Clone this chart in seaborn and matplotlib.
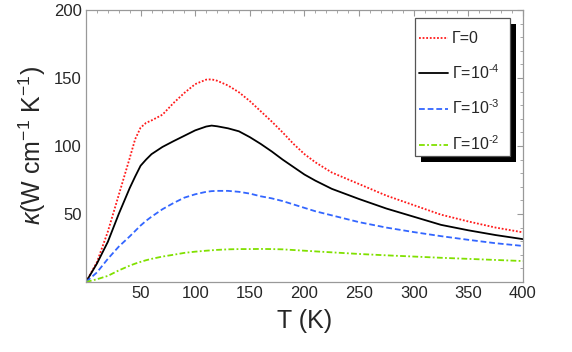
import matplotlib

matplotlib.use("Agg")
import matplotlib.pyplot as plt
import numpy as np
import pandas as pd
import seaborn as sns
from matplotlib.patches import Rectangle
from matplotlib.ticker import MultipleLocator

# values
T_VALS = [0, 10, 20, 30, 40, 45, 50, 55, 60, 70, 80, 90, 100, 110, 115, 120,
          130, 140, 150, 160, 170, 180, 190, 200, 210, 225, 250, 275, 300,
          325, 350, 375, 400]
KAPPA_G0 = [0, 14.5, 37, 64, 91, 105, 113.5, 117, 118.8, 123, 131.5, 139,
            145.5, 148.8, 149, 148, 144.5, 139.5, 133, 125.5, 118, 110, 101.5,
            94, 88, 80.5, 72, 63.5, 56.5, 49.5, 44.5, 40, 36.5]
KAPPA_G4 = [0, 13.5, 29.5, 50, 69, 77.5, 85.5, 90, 94, 99.3, 103.5, 107.5,
            111.5, 114.3, 115, 114.5, 113, 110.8, 106.5, 101.5, 96, 90, 84.5,
            79, 74.5, 68.5, 61, 54, 48, 42, 38, 34.5, 31.5]
KAPPA_G3 = [0, 7, 17, 26, 33.5, 37.5, 41.5, 45, 48, 53.5, 58, 62, 64.5, 66.3,
            66.8, 67, 67, 66.3, 65, 63, 61.5, 59.5, 57, 54.5, 52, 49, 44, 40,
            36.7, 33.7, 31, 28.5, 26.5]
KAPPA_G2 = [0, 2, 4.5, 8.5, 12, 13.5, 14.8, 16, 17, 18.7, 20, 21.4, 22.3, 23,
            23.3, 23.6, 24, 24.2, 24.2, 24.3, 24.2, 24, 23.5, 23, 22.5, 21.8,
            20.6, 19.6, 18.7, 17.8, 17, 16.2, 15.4]

LABELS = [r"Γ=0", r"Γ=10$^{\text{-}4}$", r"Γ=10$^{\text{-}3}$",
          r"Γ=10$^{\text{-}2}$"]
COLORS = ["#ff1a1a", "black", "#3366ff", "#80e000"]
STYLES = [(0, (1, 1)), "-", (0, (3.2, 1.6)), (0, (3.2, 1.3, 1, 1.3))]

sns.set_theme(style="white")
plt.rcParams["font.family"] = ["Liberation Sans", "DejaVu Sans"]
plt.rcParams["mathtext.fontset"] = "custom"
plt.rcParams["mathtext.rm"] = "Liberation Sans"
plt.rcParams["mathtext.it"] = "Liberation Sans:italic"

fig = plt.figure(figsize=(5.72, 3.52), dpi=100)
ax = fig.add_axes([0.1503, 0.1989, 0.7640, 0.7727])

series = [KAPPA_G0, KAPPA_G4, KAPPA_G3, KAPPA_G2]
for vals, lab, col, ls in zip(series, LABELS, COLORS, STYLES):
    df = pd.DataFrame({"T": T_VALS, "kappa": vals})
    sns.lineplot(data=df, x="T", y="kappa", ax=ax, color=col, linestyle=ls,
                 linewidth=1.3, label=lab)

ax.set_xlim(0, 400)
ax.set_ylim(0, 200)
ax.set_xticks(np.arange(50, 401, 50))
ax.set_yticks(np.arange(50, 201, 50))
ax.xaxis.set_minor_locator(MultipleLocator(10))
ax.yaxis.set_minor_locator(MultipleLocator(10))
ax.tick_params(which="both", direction="in", top=True, right=True,
               color="#999999", labelsize=12, pad=3)
ax.tick_params(which="major", length=4, width=0.8)
ax.tick_params(which="minor", length=2.2, width=0.6)
for sp in ax.spines.values():
    sp.set_color("#999999")
    sp.set_linewidth(0.9)

ax.set_xlabel("T (K)", fontsize=18, labelpad=6)
ax.set_ylabel(r"$\it{\kappa}$(W cm$^{-1}$ K$^{-1}$)", fontsize=18, labelpad=4)

# legend box with a hard black drop shadow, drawn by hand
box_x, box_y, box_w, box_h = 0.7529, 0.4632, 0.2174, 0.5074
ax.add_patch(Rectangle((box_x + 0.0137, box_y - 0.0221), box_w, box_h,
                       transform=ax.transAxes, facecolor="black",
                       edgecolor="none", clip_on=False, zorder=3.9))
ax.add_patch(Rectangle((box_x, box_y), box_w, box_h, transform=ax.transAxes,
                       facecolor="white", edgecolor="#555555", linewidth=0.9,
                       clip_on=False, zorder=4))

ax.legend(loc="upper left", bbox_to_anchor=(0.762, 0.9220),
          borderaxespad=0, borderpad=0, fontsize=11.5, handlelength=1.8,
          handletextpad=0.25, labelspacing=1.06, frameon=False)

fig.savefig("out.png", dpi=100)
